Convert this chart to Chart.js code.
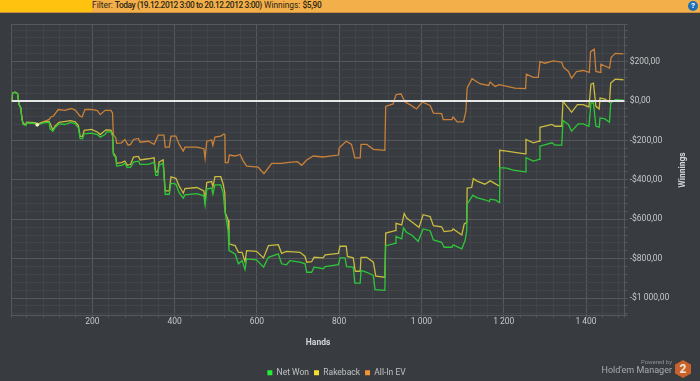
<!DOCTYPE html>
<html><head><meta charset="utf-8">
<script src="https://cdn.jsdelivr.net/npm/chart.js@4"></script>
<style>
html,body{margin:0;padding:0;background:#383b3f;overflow:hidden}
#wrap{position:relative;width:700px;height:381px;overflow:hidden;font-family:Roboto,sans-serif}
#c{position:absolute;left:0;top:0}
#bar{position:absolute;left:0;top:0;width:700px;height:12px;background:#f3af49;border-bottom:1px solid #c98d3c}
#barl{position:absolute;left:0;top:0;width:92px;height:12px;background:#ffc20f}
#txt{position:absolute;left:92px;top:-1px;font-size:8.4px;line-height:13px;color:#2b2618;white-space:pre}
#txt b{font-weight:500;letter-spacing:-.42px}
#help{position:absolute;left:688px;top:1px;width:10px;height:10px;border-radius:50%;background:#1d6fb8;color:#fff;font:bold 8px/10px Roboto;text-align:center}
#win{position:absolute;left:682px;top:169.7px;transform:translate(-50%,-50%) rotate(-90deg);font-size:8.5px;font-weight:700;color:#d4d6d8;white-space:nowrap}
#pow{position:absolute;right:28px;top:358px;font-size:6px;line-height:8px;color:#8e9194;white-space:nowrap}
#hem{position:absolute;right:28px;top:363px;font-size:9px;line-height:14px;color:#a9acaf;white-space:nowrap}
#hex{position:absolute;left:675px;top:360px;width:16px;height:18px;background:#c9622a;clip-path:polygon(50% 0,100% 25%,100% 75%,50% 100%,0 75%,0 25%);color:#f1e6dc;font:bold 12px/18px Roboto;text-align:center}
</style></head><body>
<div id="wrap">
<canvas id="c" width="700" height="381"></canvas>
<div id="bar"></div><div id="barl"></div>
<div id="txt">Filter: <b>Today (19.12.2012 3:00 to 20.12.2012 3:00)</b> Winnings: <b>$5,90</b></div>
<div id="help">?</div>
<div id="win">Winnings</div>
<div id="pow">Powered by</div>
<div id="hem">Hold'em Manager</div>
<div id="hex">2</div>
</div>
<script>
const netHands=[4,6,12,18,22,26,29,32,38,40,61,66,81,95,97,104,109,119,133,147,158,166,170,176,180,198,212,219,231,235,245,249,251,257,259,271,279,285,293,300,312,316,336,350,354,359,362,372,377,387,391,403,411,421,425,454,471,474,478,490,493,498,512,518,522,530,532,547,555,564,571,575,599,616,628,652,660,672,680,705,717,721,733,739,761,766,798,802,814,818,834,838,851,853,867,883,887,911,913,936,938,952,956,964,976,992,1004,1021,1029,1049,1055,1074,1077,1098,1106,1110,1111,1125,1134,1154,1165,1167,1181,1189,1190,1207,1223,1252,1254,1272,1286,1288,1317,1325,1341,1344,1357,1365,1381,1393,1407,1412,1418,1424,1432,1434,1446,1457,1460,1471,1491];
const netWon=[-2,40,45,37,-18,-35,-94,-119,-124,-111,-114,-123,-111,-108,-141,-153,-136,-116,-119,-108,-114,-136,-190,-192,-167,-163,-170,-183,-170,-157,-157,-178,-271,-288,-330,-326,-318,-338,-335,-310,-305,-321,-321,-310,-377,-377,-326,-316,-473,-473,-417,-422,-465,-493,-476,-470,-481,-528,-447,-442,-473,-426,-426,-465,-557,-658,-759,-776,-826,-810,-855,-801,-806,-843,-793,-776,-826,-831,-810,-818,-826,-869,-869,-843,-851,-840,-830,-796,-796,-840,-843,-924,-924,-860,-869,-885,-957,-961,-734,-722,-688,-700,-644,-667,-680,-712,-649,-658,-705,-717,-742,-742,-730,-750,-708,-658,-523,-478,-490,-501,-510,-498,-503,-515,-338,-341,-351,-360,-288,-305,-296,-229,-212,-224,-224,-99,-119,-153,-116,-116,-128,-10,-10,-128,-133,-86,-91,-108,-10,7,4];
const rakeHands=[4,6,12,18,22,26,29,32,38,40,61,66,81,95,104,109,119,147,158,166,170,176,180,198,212,219,233,245,249,251,257,259,271,279,285,293,300,312,316,336,350,354,359,362,372,377,387,391,403,411,421,425,454,471,474,478,490,493,498,512,518,522,523,530,532,547,555,564,571,575,599,616,628,652,660,672,705,717,721,733,739,761,766,798,802,817,820,834,839,851,853,867,883,889,911,913,936,938,952,958,964,976,994,1004,1021,1029,1049,1055,1074,1077,1098,1104,1110,1111,1122,1126,1134,1154,1167,1181,1189,1190,1207,1223,1252,1254,1272,1286,1288,1317,1325,1341,1344,1365,1379,1393,1407,1412,1418,1424,1432,1434,1446,1457,1460,1471,1491];
const rakeback=[-2,40,45,37,-18,-35,-93,-116,-121,-108,-110,-118,-106,-103,-148,-128,-108,-99,-105,-124,-178,-180,-149,-144,-157,-170,-146,-148,-167,-263,-283,-316,-313,-305,-326,-321,-284,-281,-299,-293,-288,-360,-360,-310,-298,-456,-456,-385,-392,-431,-468,-444,-439,-456,-507,-414,-409,-436,-384,-384,-422,-468,-566,-604,-725,-734,-768,-768,-815,-759,-763,-796,-734,-729,-773,-763,-768,-789,-818,-815,-793,-796,-781,-773,-737,-737,-789,-796,-864,-864,-793,-793,-818,-889,-894,-670,-658,-621,-629,-571,-594,-613,-641,-577,-586,-633,-638,-663,-658,-649,-680,-624,-616,-442,-439,-394,-405,-422,-405,-422,-431,-250,-254,-259,-268,-195,-212,-204,-133,-119,-128,-128,-2,-57,-18,-18,-30,86,91,-27,-40,15,10,-5,91,111,108];
const evHands=[4,6,12,18,22,26,29,32,38,40,61,66,81,95,99,105,117,133,149,159,170,175,182,198,212,219,231,245,249,251,257,259,271,279,287,293,300,312,316,336,350,360,374,377,387,391,403,411,421,425,454,471,474,478,490,493,498,512,520,522,523,530,533,547,559,567,575,603,617,636,660,672,698,709,721,737,761,798,800,817,830,838,851,853,867,883,911,913,931,938,950,960,972,988,1002,1021,1029,1049,1053,1074,1077,1087,1102,1108,1111,1123,1142,1163,1167,1179,1189,1227,1253,1255,1272,1284,1288,1300,1320,1341,1345,1357,1365,1377,1393,1408,1411,1420,1424,1434,1436,1457,1461,1471,1491];
const allInEV=[-2,40,45,37,-18,-35,-93,-115,-120,-108,-110,-118,-106,-93,-81,-77,-43,-47,-38,-47,-77,-81,-43,-42,-48,-69,-47,-47,-61,-170,-187,-215,-212,-195,-224,-220,-195,-190,-209,-204,-220,-173,-173,-234,-234,-178,-178,-220,-254,-234,-234,-242,-291,-204,-198,-225,-183,-178,-167,-170,-313,-313,-274,-279,-271,-305,-330,-335,-369,-316,-316,-313,-308,-326,-299,-279,-284,-274,-237,-204,-220,-288,-288,-220,-220,-245,-250,-27,-15,32,37,-5,-18,-40,-5,-22,-61,-64,-94,-94,-81,-106,-106,-52,66,113,88,79,96,74,83,66,63,136,120,120,200,192,204,197,172,150,116,150,155,145,251,263,150,145,187,167,221,242,239];
const zeroHands=[3.4,1494];
const zeroLine=[0,0];
const highlightHand=[66];
const highlightValue=[-120];
const xMin=3.4,xMax=1494,yMin=-1089,yMax=391;
const pts=(h,v)=>h.map((x,i)=>({x,y:v[i]}));
const fmtN=n=>String(Math.abs(n)).replace(/\B(?=(\d{3})+$)/g,' ');
const FONT={family:'Roboto',size:8.5};
const MAJ='#55585c',MIN='#414448',TXT='#c6c8ca';
const ds=(label,h,v,color,lg)=>({label,data:pts(h,v),borderColor:color,backgroundColor:lg,borderWidth:1.3,pointRadius:0,tension:0});
const sets=[
 {label:'zero',data:pts(zeroHands,zeroLine),borderColor:'#e6e8e8',borderWidth:2,pointRadius:0},
 {label:'mark',data:pts(highlightHand,highlightValue),borderColor:'#f5e6c0',backgroundColor:'#f5e6c0',pointRadius:1.5,showLine:false},
 ds('Net Won',netHands,netWon,'#2cc83a','#22ee33'),
 ds('Rakeback',rakeHands,rakeback,'#c9bc3e','#f0e030'),
 ds('All-In EV',evHands,allInEV,'#c9813a','#f39433')
];
const legendShift={id:'legendShift',afterLayout(c){c.legend.left=0;c.legend.right=673;}};
new Chart(document.getElementById('c'),{
 type:'line',
 data:{datasets:sets},
 plugins:[legendShift],
 options:{
  responsive:false,animation:false,
  layout:{padding:{top:24,left:11.5,right:0,bottom:-6}},
  plugins:{tooltip:{enabled:false},
   legend:{position:'bottom',labels:{
     boxWidth:5,boxHeight:5,padding:5,color:'#c0c2c4',font:FONT,
     generateLabels:c=>c.data.datasets.slice(2).map((d,i)=>({text:d.label,fillStyle:d.backgroundColor,strokeStyle:d.backgroundColor,lineWidth:0,fontColor:'#c0c2c4',datasetIndex:i+2}))
   }}},
  scales:{
   x:{type:'linear',min:xMin,max:xMax,
    afterBuildTicks:a=>{const t=[{value:xMin}];for(let v=40;v<xMax;v+=40)t.push({value:v});t.push({value:xMax});a.ticks=t;},
    afterFit:a=>{a.height=47.9;},
    grid:{color:c=>{const v=c.tick&&c.tick.value;return v%200===0||v===xMin||v===xMax?MAJ:MIN},tickColor:MAJ,tickLength:2,lineWidth:1},
    border:{color:MAJ},
    ticks:{color:TXT,font:FONT,padding:-1,autoSkip:false,maxRotation:0,callback:v=>v%200===0?fmtN(v):''},
    title:{display:true,text:'Hands',color:'#d4d6d8',font:{family:'Roboto',size:8.5,weight:'bold'},padding:{top:4,bottom:15.6}}
   },
   y:{type:'linear',position:'right',min:yMin,max:yMax,
    afterBuildTicks:a=>{const t=[{value:yMin}];for(let v=-1080;v<yMax;v+=40)t.push({value:v});t.push({value:yMax});a.ticks=t;},
    afterFit:a=>{a.width=75.3;},
    grid:{color:c=>{const v=c.tick&&c.tick.value;return v%200===0||v===yMin||v===yMax?MAJ:MIN},tickColor:MAJ,tickLength:3,lineWidth:1},
    border:{color:MAJ},
    ticks:{color:TXT,font:FONT,padding:2,autoSkip:false,callback:v=>v%200===0?(v<0?'-':'')+'$'+fmtN(v)+',00':''}
   }
  }
 }
});
</script>
</body></html>
